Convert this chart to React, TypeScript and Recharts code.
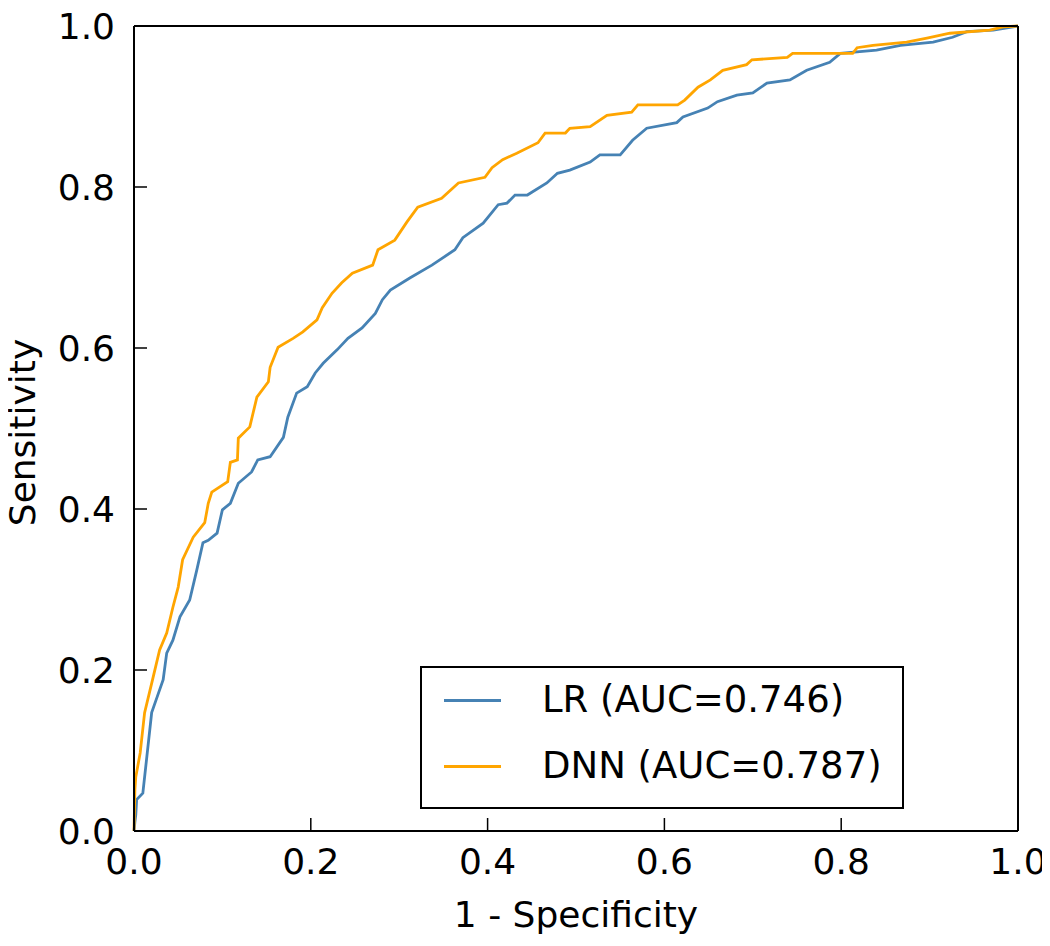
import { LineChart, Line, XAxis, YAxis, Legend } from 'recharts';

// ROC points, [1 - specificity, sensitivity]
const lrFpr = [0, 0.001, 0.002, 0.003, 0.01, 0.015, 0.02, 0.026, 0.033, 0.037, 0.044, 0.052, 0.063, 0.071, 0.078, 0.084, 0.094, 0.1, 0.109, 0.118, 0.133, 0.14, 0.154, 0.169, 0.174, 0.184, 0.196, 0.205, 0.214, 0.23, 0.242, 0.258, 0.273, 0.281, 0.29, 0.312, 0.337, 0.363, 0.372, 0.395, 0.412, 0.422, 0.431, 0.445, 0.467, 0.479, 0.493, 0.516, 0.527, 0.55, 0.564, 0.58, 0.614, 0.621, 0.649, 0.66, 0.682, 0.7, 0.716, 0.742, 0.761, 0.787, 0.799, 0.84, 0.867, 0.904, 0.926, 0.942, 0.972, 1];
const lrTpr = [0, 0.011, 0.02, 0.039, 0.047, 0.097, 0.147, 0.166, 0.188, 0.221, 0.237, 0.266, 0.287, 0.324, 0.358, 0.361, 0.37, 0.399, 0.407, 0.432, 0.446, 0.461, 0.465, 0.489, 0.514, 0.544, 0.552, 0.569, 0.581, 0.598, 0.612, 0.625, 0.643, 0.66, 0.672, 0.687, 0.703, 0.722, 0.737, 0.755, 0.778, 0.78, 0.79, 0.79, 0.805, 0.817, 0.821, 0.831, 0.84, 0.84, 0.858, 0.873, 0.88, 0.887, 0.898, 0.906, 0.914, 0.917, 0.929, 0.933, 0.945, 0.955, 0.966, 0.97, 0.976, 0.98, 0.986, 0.993, 0.995, 1];

const dnnFpr = [0, 0.001, 0.002, 0.007, 0.012, 0.021, 0.029, 0.037, 0.044, 0.05, 0.055, 0.067, 0.08, 0.084, 0.088, 0.106, 0.109, 0.117, 0.118, 0.131, 0.139, 0.152, 0.154, 0.163, 0.18, 0.191, 0.207, 0.213, 0.224, 0.235, 0.247, 0.27, 0.276, 0.295, 0.309, 0.321, 0.348, 0.367, 0.397, 0.405, 0.417, 0.433, 0.457, 0.465, 0.488, 0.493, 0.516, 0.535, 0.563, 0.57, 0.615, 0.623, 0.638, 0.652, 0.666, 0.693, 0.699, 0.739, 0.745, 0.813, 0.818, 0.836, 0.874, 0.897, 0.923, 0.968, 0.983, 1];
const dnnTpr = [0, 0.051, 0.067, 0.097, 0.147, 0.188, 0.225, 0.246, 0.278, 0.303, 0.337, 0.365, 0.383, 0.407, 0.421, 0.434, 0.458, 0.461, 0.488, 0.502, 0.539, 0.558, 0.576, 0.601, 0.612, 0.62, 0.635, 0.65, 0.668, 0.681, 0.693, 0.703, 0.722, 0.734, 0.757, 0.775, 0.786, 0.805, 0.812, 0.824, 0.834, 0.842, 0.855, 0.867, 0.867, 0.873, 0.875, 0.889, 0.893, 0.902, 0.902, 0.908, 0.924, 0.933, 0.945, 0.952, 0.958, 0.961, 0.966, 0.966, 0.973, 0.976, 0.98, 0.985, 0.991, 0.995, 0.999, 1];

const axisTicks = [0, 0.2, 0.4, 0.6, 0.8, 1.0];
const seriesNames = ['LR (AUC=0.746)', 'DNN (AUC=0.787)'];

const BLUE = '#4682b4';
const ORANGE = '#ffa500';
const FONT = '"DejaVu Sans", sans-serif';

const toPoints = (xs: number[], ys: number[]) => xs.map((x, i) => ({ x, y: ys[i] }));

const lrData = toPoints(lrFpr, lrTpr);
const dnnData = toPoints(dnnFpr, dnnTpr);

const tickStyle = { fontSize: 36, fontFamily: FONT, fill: '#000' };
const frameLine = { stroke: '#000', strokeWidth: 2 };
const tickMark = { stroke: '#000', strokeWidth: 1.5 };

function LegendBox() {
  const rows = [
    { name: seriesNames[0], color: BLUE, top: 34 },
    { name: seriesNames[1], color: ORANGE, top: 100 },
  ];
  return (
    <div
      style={{
        position: 'relative',
        width: 484,
        height: 143,
        boxSizing: 'border-box',
        border: '2px solid #000',
        background: '#fff',
        fontFamily: FONT,
        fontSize: 37,
        color: '#000',
      }}
    >
      {rows.map(r => (
        <div key={r.name}>
          <div
            style={{
              position: 'absolute',
              left: 22,
              top: r.top - 2 - 1.5,
              width: 57,
              height: 3,
              background: r.color,
            }}
          />
          <div
            style={{
              position: 'absolute',
              left: 120,
              top: r.top - 2 - 23,
              lineHeight: '46px',
              whiteSpace: 'nowrap',
            }}
          >
            {r.name}
          </div>
        </div>
      ))}
    </div>
  );
}

export default function App() {
  return (
    // cancel the body margin so the chart fills the window
    <div style={{ margin: -8 }}>
      <LineChart
        width={1050}
        height={946}
        margin={{ top: 25, right: 31, left: 0, bottom: 0 }}
      >
        <XAxis
          xAxisId="bottom"
          dataKey="x"
          type="number"
          domain={[0, 1]}
          ticks={axisTicks}
          interval={0}
          tickFormatter={(v: number) => v.toFixed(1)}
          height={115}
          tickSize={-13}
          tickMargin={30}
          tick={tickStyle}
          axisLine={frameLine}
          tickLine={tickMark}
          label={{
            content: ({ viewBox }: any) => (
              <text
                x={viewBox.x + viewBox.width / 2}
                y={viewBox.y + 96}
                textAnchor="middle"
                fontSize={36}
                fontFamily={FONT}
                fill="#000"
              >
                1 - Specificity
              </text>
            ),
          }}
        />
        <XAxis
          xAxisId="top"
          orientation="top"
          type="number"
          domain={[0, 1]}
          ticks={axisTicks}
          interval={0}
          height={1}
          tickSize={-13}
          tick={false}
          axisLine={frameLine}
          tickLine={tickMark}
        />
        <YAxis
          yAxisId="left"
          type="number"
          domain={[0, 1]}
          ticks={axisTicks}
          interval={0}
          tickFormatter={(v: number) => v.toFixed(1)}
          width={134}
          tickSize={-13}
          tickMargin={32}
          tick={tickStyle}
          axisLine={frameLine}
          tickLine={tickMark}
          label={{
            content: ({ viewBox }: any) => {
              const cx = 35;
              const cy = viewBox.y + viewBox.height / 2 + 4;
              return (
                <text
                  x={cx}
                  y={cy}
                  transform={`rotate(-90 ${cx} ${cy})`}
                  textAnchor="middle"
                  fontSize={36}
                  fontFamily={FONT}
                  fill="#000"
                >
                  Sensitivity
                </text>
              );
            },
          }}
        />
        <YAxis
          yAxisId="right"
          orientation="right"
          type="number"
          domain={[0, 1]}
          ticks={axisTicks}
          interval={0}
          width={1}
          tickSize={-13}
          tick={false}
          axisLine={frameLine}
          tickLine={tickMark}
        />
        <Legend
          layout="vertical"
          align="center"
          verticalAlign="middle"
          wrapperStyle={{ left: 420, top: 666, width: 484, height: 143 }}
          content={() => <LegendBox />}
        />
        <Line
          xAxisId="bottom"
          yAxisId="left"
          data={lrData}
          dataKey="y"
          name={seriesNames[0]}
          type="linear"
          stroke={BLUE}
          strokeWidth={2.8}
          dot={false}
          isAnimationActive={false}
        />
        <Line
          xAxisId="bottom"
          yAxisId="left"
          data={dnnData}
          dataKey="y"
          name={seriesNames[1]}
          type="linear"
          stroke={ORANGE}
          strokeWidth={2.8}
          dot={false}
          isAnimationActive={false}
        />
      </LineChart>
    </div>
  );
}
